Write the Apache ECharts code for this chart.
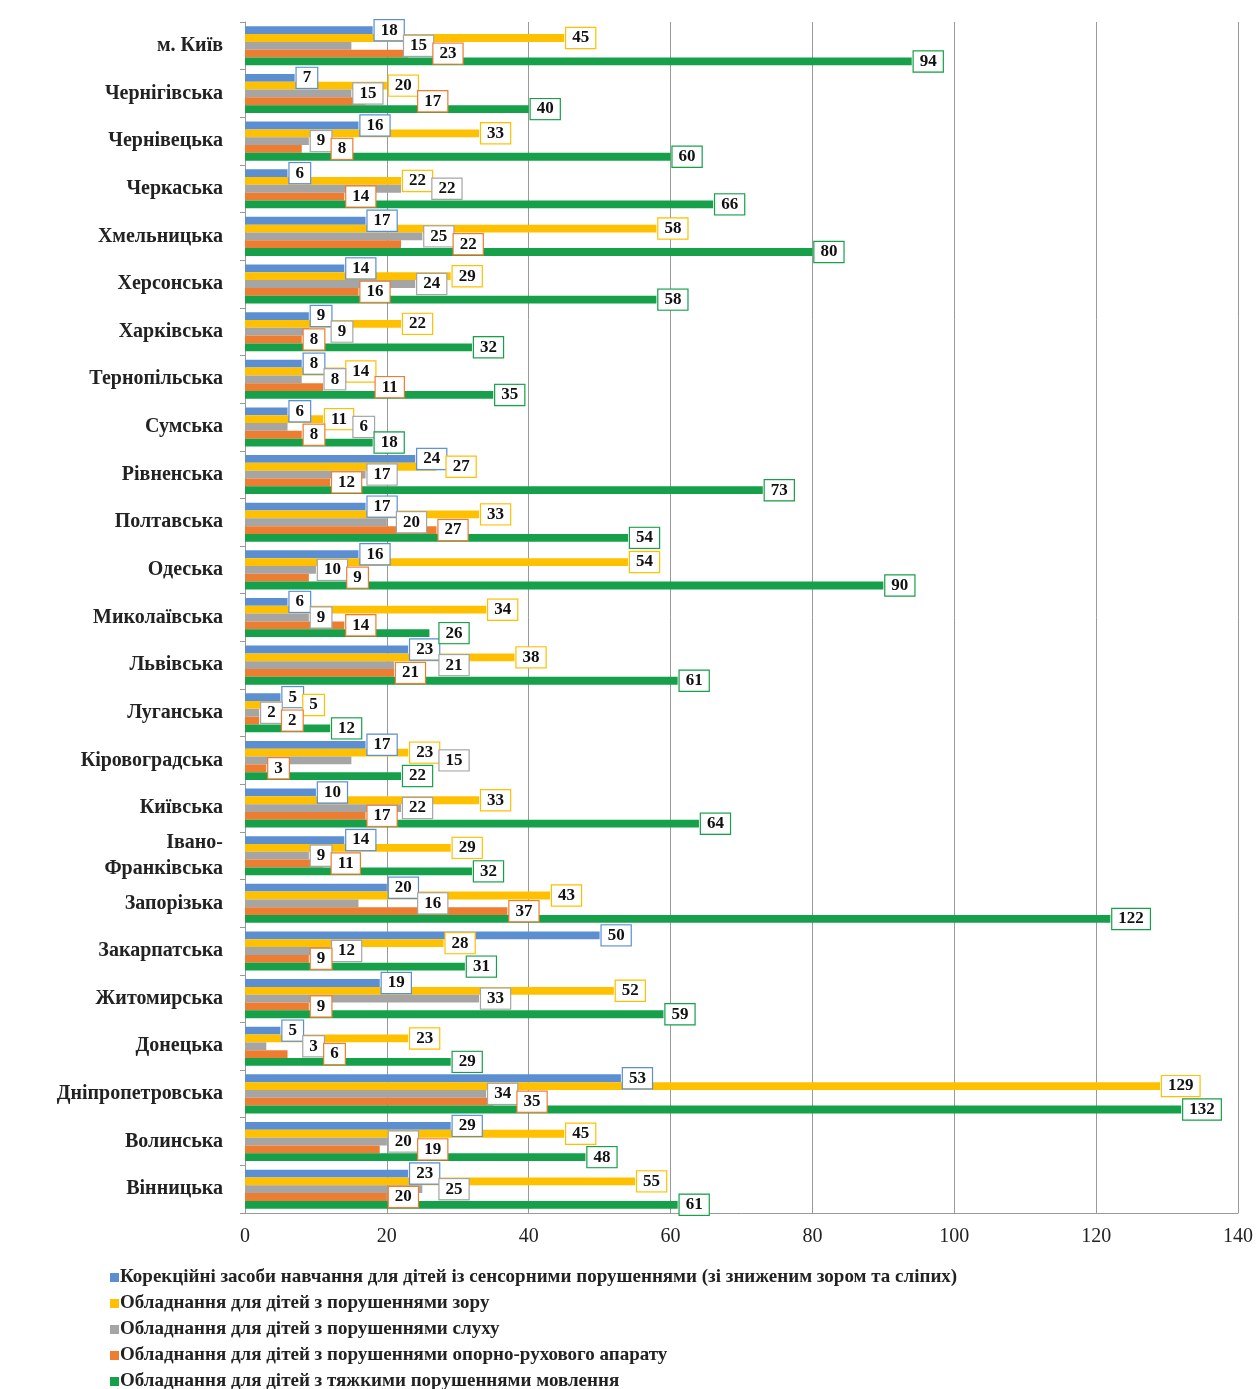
<!DOCTYPE html>
<html>
<head>
<meta charset="utf-8">
<script src="https://cdn.jsdelivr.net/npm/echarts@6/dist/echarts.min.js"></script>
<style>
  html, body { margin: 0; padding: 0; background: #fff; }
  #chart { width: 1259px; height: 1389px; }
</style>
</head>
<body>
<div id="chart"></div>
<script>
// Regions, listed from top to bottom
const regions = [
  'м. Київ', 'Чернігівська', 'Чернівецька', 'Черкаська', 'Хмельницька',
  'Херсонська', 'Харківська', 'Тернопільська', 'Сумська', 'Рівненська',
  'Полтавська', 'Одеська', 'Миколаївська', 'Львівська', 'Луганська',
  'Кіровоградська', 'Київська', 'Івано-\nФранківська', 'Запорізька', 'Закарпатська',
  'Житомирська', 'Донецька', 'Дніпропетровська', 'Волинська', 'Вінницька'
];

const seriesNames = [
  'Корекційні засоби навчання для дітей із сенсорними порушеннями (зі зниженим зором та сліпих)',
  'Обладнання для дітей з порушеннями зору',
  'Обладнання для дітей з порушеннями слуху',
  'Обладнання для дітей з порушеннями опорно-рухового апарату',
  'Обладнання для дітей з тяжкими порушеннями мовлення'
];

const correctionalAids = [18, 7, 16, 6, 17, 14, 9, 8, 6, 24, 17, 16, 6, 23, 5, 17, 10, 14, 20, 50, 19, 5, 53, 29, 23];
const visionEquipment  = [45, 20, 33, 22, 58, 29, 22, 14, 11, 27, 33, 54, 34, 38, 5, 23, 33, 29, 43, 28, 52, 23, 129, 45, 55];
const hearingEquipment = [15, 15, 9, 22, 25, 24, 9, 8, 6, 17, 20, 10, 9, 21, 2, 15, 22, 9, 16, 12, 33, 3, 34, 20, 25];
const motorEquipment   = [23, 17, 8, 14, 22, 16, 8, 11, 8, 12, 27, 9, 14, 21, 2, 3, 17, 11, 37, 9, 9, 6, 35, 19, 20];
const speechEquipment  = [94, 40, 60, 66, 80, 58, 32, 35, 18, 73, 54, 90, 26, 61, 12, 22, 64, 32, 122, 31, 59, 29, 132, 48, 61];

const xTicks = { min: 0, max: 140, interval: 20 };

const colors = ['#5B8FD2', '#FFC000', '#A5A5A5', '#ED7D31', '#16A04A'];
const valueSets = [correctionalAids, visionEquipment, hearingEquipment, motorEquipment, speechEquipment];

const serif = '"Liberation Serif", "DejaVu Serif", serif';

// Value boxes that would cover an earlier box are pushed to its right,
// so every number stays readable.
let placedBoxes = [];
function avoidOverlap(params) {
  if (params.seriesIndex === 0 && params.dataIndex === 0) placedBoxes = [];
  const r = params.labelRect;
  let x = r.x;
  let moved = true;
  let guard = 0;
  while (moved && guard < 20) {
    moved = false;
    guard++;
    for (const b of placedBoxes) {
      const yOverlap = Math.min(r.y + r.height, b.y + b.height) - Math.max(r.y, b.y);
      const xOverlap = Math.min(x + r.width, b.x + b.width) - Math.max(x, b.x);
      if (yOverlap > 5 && xOverlap > 3) {
        x = b.x + b.width - 2;
        moved = true;
      }
    }
  }
  placedBoxes.push({ x: x, y: r.y, width: r.width, height: r.height });
  return { dx: x - r.x };
}

const series = valueSets.map((vals, i) => ({
  name: seriesNames[i],
  type: 'bar',
  data: vals,
  barGap: '0%',
  barCategoryGap: '18%',
  itemStyle: { color: colors[i] },
  label: {
    show: true,
    position: 'right',
    distance: 2,
    fontFamily: serif,
    fontWeight: 'bold',
    fontSize: 17,
    color: '#111',
    backgroundColor: '#fff',
    borderColor: colors[i],
    borderWidth: 1.2,
    padding: [2, 6, 1, 6]
  },
  labelLayout: avoidOverlap
}));

const chart = echarts.init(document.getElementById('chart'));
chart.setOption({
  animation: false,
  color: colors,
  grid: { left: 245, right: 21, top: 22, bottom: 176, containLabel: false },
  xAxis: {
    type: 'value',
    min: xTicks.min,
    max: xTicks.max,
    interval: xTicks.interval,
    axisLine: { show: true, lineStyle: { color: '#999' } },
    axisTick: { show: false },
    splitLine: { show: true, lineStyle: { color: '#999', width: 1 } },
    axisLabel: { fontFamily: serif, fontSize: 20, color: '#222', margin: 14 }
  },
  yAxis: {
    type: 'category',
    data: regions,
    inverse: true,
    axisLine: { show: true, lineStyle: { color: '#999' } },
    axisTick: { show: true, length: 5, lineStyle: { color: '#999' } },
    axisLabel: {
      fontFamily: serif, fontWeight: 'bold', fontSize: 20, color: '#222',
      margin: 22, align: 'right', lineHeight: 26
    }
  },
  legend: {
    orient: 'vertical',
    left: 105,
    top: 1263,
    height: 140,
    itemWidth: 9,
    itemHeight: 9,
    itemGap: 7,
    icon: 'rect',
    textStyle: { fontFamily: serif, fontWeight: 'bold', fontSize: 19, color: '#222', padding: [0, 0, 0, -4] }
  },
  series: series
});
</script>
</body>
</html>
